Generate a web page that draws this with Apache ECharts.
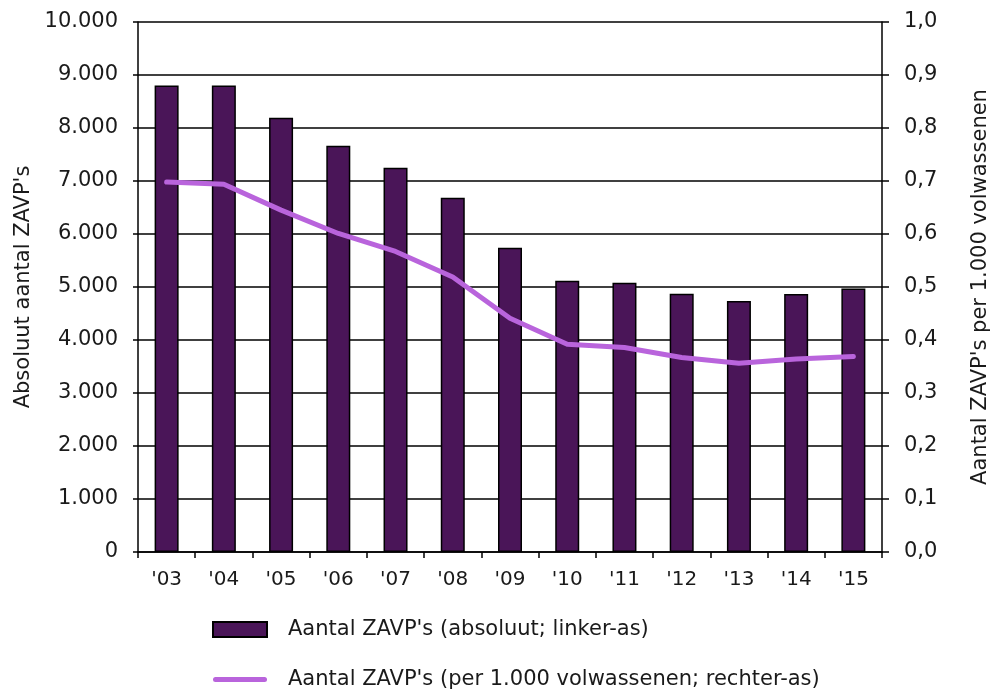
<!DOCTYPE html>
<html>
<head>
<meta charset="utf-8">
<script src="https://cdn.jsdelivr.net/npm/echarts@6/dist/echarts.min.js"></script>
<style>
  html, body { margin: 0; padding: 0; background: #fff; }
  #chart { width: 997px; height: 690px; }
</style>
</head>
<body>
<div id="chart"></div>
<script>
// jaren
const years = ["'03", "'04", "'05", "'06", "'07", "'08", "'09", "'10", "'11", "'12", "'13", "'14", "'15"];
// absoluut aantal ZAVP's (linker-as)
const absoluut = [8800, 8800, 8195, 7665, 7250, 6685, 5740, 5120, 5080, 4875, 4735, 4870, 4970];
// per 1.000 volwassenen (rechter-as)
const perDuizend = [0.698, 0.694, 0.645, 0.601, 0.567, 0.519, 0.441, 0.392, 0.386, 0.367, 0.356, 0.364, 0.369];

const barName = "Aantal ZAVP's (absoluut; linker-as)";
const lineName = "Aantal ZAVP's (per 1.000 volwassenen; rechter-as)";

const font = 'DejaVu Sans';
const chart = echarts.init(document.getElementById('chart'));

const option = {
  animation: false,
  grid: {   // plotgebied
    left: 138,
    right: 115,
    top: 22,
    bottom: 138,
    outerBoundsMode: 'none'
  },
  legend: {
    orient: 'vertical',
    left: 212,
    top: 619,
    height: 71,
    padding: 0,
    itemWidth: 54,
    itemHeight: 15,
    itemGap: 29,
    symbolKeepAspect: true,
    textStyle: {
      fontFamily: font,
      fontSize: 21,
      lineHeight: 20,
      color: '#1a1a1a',
      padding: [0, 0, 0, 16]
    },
    data: [
      { name: barName, icon: 'rect' },
      { name: lineName, icon: 'path://M2.5,0H51.5A2.5,2.5 0 0 1 51.5,5H2.5A2.5,2.5 0 0 1 2.5,0Z' }
    ]
  },
  xAxis: {
    type: 'category',
    data: years,
    axisLine: { lineStyle: { color: '#000', width: 1.5 } },
    axisTick: { show: true, length: 6, lineStyle: { color: '#000', width: 1.5 } },
    axisLabel: { fontFamily: font, fontSize: 20, color: '#1a1a1a', margin: 18 }
  },
  yAxis: [
    {
      type: 'value',
      min: 0,
      max: 10000,
      interval: 1000,
      name: "Absoluut aantal ZAVP's",
      nameLocation: 'middle',
      nameGap: 104,
      nameTextStyle: { fontFamily: font, fontSize: 21, color: '#1a1a1a' },
      axisLine: { show: true, lineStyle: { color: '#000', width: 1.5 } },
      axisTick: { show: true, length: 5, lineStyle: { color: '#000', width: 1.5 } },
      splitLine: { show: true, lineStyle: { color: '#000', width: 1.5 } },
      axisLabel: {
        fontFamily: font,
        fontSize: 21,
        color: '#1a1a1a',
        margin: 20,
        formatter: v => v === 0 ? '0' : v.toLocaleString('de-DE')
      }
    },
    {
      type: 'value',
      min: 0,
      max: 1,
      interval: 0.1,
      position: 'right',
      name: "Aantal ZAVP's per 1.000 volwassenen",
      nameLocation: 'middle',
      nameGap: 88,
      nameRotate: 90,
      nameTextStyle: { fontFamily: font, fontSize: 21, color: '#1a1a1a' },
      axisLine: { show: true, lineStyle: { color: '#000', width: 1.5 } },
      axisTick: { show: true, length: 7, lineStyle: { color: '#000', width: 1.5 } },
      splitLine: { show: false },
      axisLabel: {
        fontFamily: font,
        fontSize: 21,
        color: '#1a1a1a',
        margin: 22,
        formatter: v => v.toFixed(1).replace('.', ',')
      }
    }
  ],
  series: [
    {
      name: barName,
      type: 'bar',
      data: absoluut,
      barWidth: 24,
      itemStyle: {
        color: '#4A1558',
        borderColor: '#000',
        borderWidth: 1.5
      }
    },
    {
      name: lineName,
      type: 'line',
      yAxisIndex: 1,
      data: perDuizend,
      symbol: 'none',
      smooth: false,
      lineStyle: { color: '#B964DC', width: 5, cap: 'round', join: 'round' },
      itemStyle: { color: '#B964DC' }
    }
  ]
};

chart.setOption(option);
</script>
</body>
</html>
